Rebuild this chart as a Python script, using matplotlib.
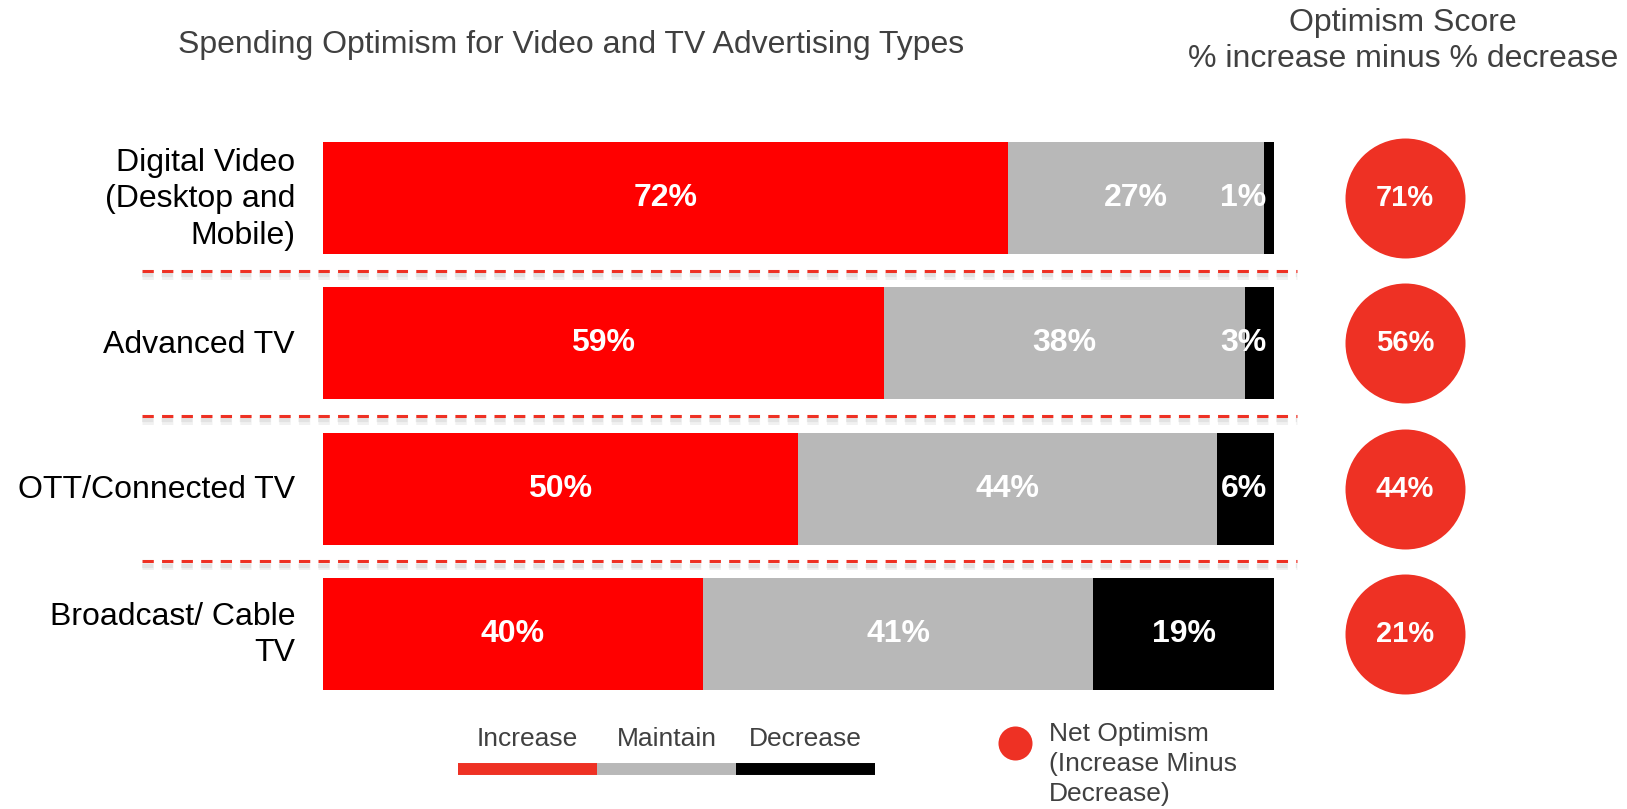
import matplotlib.pyplot as plt

plt.rcParams['font.family'] = ['Liberation Sans', 'DejaVu Sans']

categories = ["Digital Video\n(Desktop and\nMobile)", "Advanced TV", "OTT/Connected TV", "Broadcast/ Cable\nTV"]
increase = [72, 59, 50, 40]
maintain = [27, 38, 44, 41]
decrease = [1, 3, 6, 19]
net_optimism = [71, 56, 44, 21]
legend_labels = ["Increase", "Maintain", "Decrease"]

RED = "#FF0000"
GRAY = "#B8B8B8"
BLACK = "#000000"
CIRCLE = "#EE3124"
TXT = "#404040"

W, H = 1627, 809
fig = plt.figure(figsize=(W / 100, H / 100), dpi=100)
ax = fig.add_axes([0, 0, 1, 1])

# pixel layout -> data scale (x: 0..100 between bar edges, y: one unit per row)
x0, x100 = 322.7, 1274.0
ppx = (x100 - x0) / 100
y_first, pitch = 198.0, 145.3
ax.set_xlim(-x0 / ppx, (W - x0) / ppx)
ax.set_ylim((H - y_first) / pitch, -y_first / pitch)
ax.axis('off')

ypos = list(range(len(categories)))
bh = 112 / pitch
ax.barh(ypos, increase, height=bh, color=RED)
ax.barh(ypos, maintain, left=increase, height=bh, color=GRAY)
left2 = [a + b for a, b in zip(increase, maintain)]
ax.barh(ypos, decrease, left=left2, height=bh, color=BLACK)

for i in ypos:
    kw = dict(color='white', fontsize=23, fontweight='bold', ha='center', va='center')
    ax.text(increase[i] / 2, i, f"{increase[i]}%", **kw)
    ax.text(increase[i] + maintain[i] / 2, i, f"{maintain[i]}%", **kw)
    ax.text(min(left2[i] + decrease[i] / 2, 96.8), i, f"{decrease[i]}%", **kw)
    ax.text(-2.9, i + 0.01, categories[i], ha='right', va='center', fontsize=23,
            color='black', linespacing=1.27)

# dashed separators with soft shadow
for i in ypos[:-1]:
    y = i + 0.5
    for off, lw, a in [(0.035, 5, 0.25), (0.03, 3, 0.35)]:
        ax.plot([-19, 102.4], [y + off, y + off], color='#c8c8c8', lw=lw,
                linestyle=(0, (3.7 * 2.2 / lw, 2.7 * 2.2 / lw)), alpha=a, zorder=1)
    ax.plot([-19, 102.4], [y, y], color=CIRCLE, lw=2.2,
            linestyle=(0, (3.7, 2.7)), zorder=2)

# net optimism circles
cx = (1405 - x0) / ppx
ax.scatter([cx] * len(net_optimism), ypos, s=(120 * 0.72) ** 2, color=CIRCLE,
           linewidths=0, zorder=3)
for i, v in enumerate(net_optimism):
    ax.text(cx, i, f"{v}%", color='white', fontsize=21, fontweight='bold',
            ha='center', va='center', zorder=4)

# titles
fig.text(571 / W, 1 - 45 / H, "Spending Optimism for Video and TV Advertising Types",
         ha='center', va='center', fontsize=23, color=TXT)
fig.text(1403 / W, 1 - 41 / H, "Optimism Score\n% increase minus % decrease",
         ha='center', va='center', fontsize=23, color=TXT, linespacing=1.22)

# legend
leg_cols = [CIRCLE, GRAY, BLACK]
ly = (769 - y_first) / pitch
lty = (739 - y_first) / pitch
edges = [458, 597, 736, 875]
for k in range(3):
    a, b = (edges[k] - x0) / ppx, (edges[k + 1] - x0) / ppx
    ax.plot([a, b], [ly, ly], color=leg_cols[k], lw=8.6, solid_capstyle='butt')
    ax.text((a + b) / 2, lty, legend_labels[k], ha='center', va='center',
            fontsize=19, color=TXT)

ax.plot([(1015 - x0) / ppx], [(743 - y_first) / pitch], 'o', color=CIRCLE,
        markersize=24.5, markeredgewidth=0)
ax.text((1049 - x0) / ppx, (764 - y_first) / pitch,
        "Net Optimism\n(Increase Minus\nDecrease)", ha='left', va='center',
        fontsize=19, color=TXT, linespacing=1.3)

fig.savefig("out.png", dpi=100)
